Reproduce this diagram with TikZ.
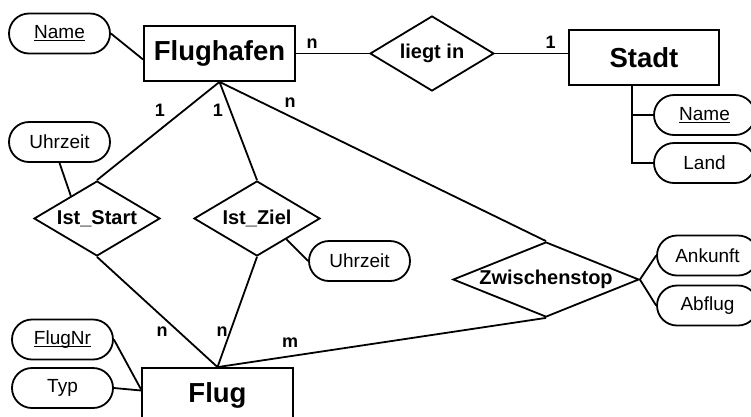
\documentclass[tikz,border=0pt]{standalone}
\usepackage{fontspec}
\setmainfont{Liberation Sans}
\usetikzlibrary{shapes.geometric,calc}
\newcommand\attul[1]{\setbox0\hbox{#1}\rlap{\rule[-2.6pt]{\wd0}{1.2pt}}\box0}
\begin{document}
\begin{tikzpicture}[x=1pt,y=-1pt, line width=1.8pt,
 entity/.style={draw, rectangle, minimum width=151pt, minimum height=55pt, inner sep=0pt, font=\fontsize{27.5}{30}\selectfont\bfseries},
 rel/.style={draw, diamond, inner sep=0pt, minimum height=75pt, font=\fontsize{20}{22}\selectfont\bfseries},
 attr/.style={draw, rectangle, rounded corners=20pt, minimum width=101pt, minimum height=40pt, inner sep=0pt, font=\fontsize{19}{21}\selectfont},
 card/.style={inner sep=0pt, font=\fontsize{18}{20}\selectfont\bfseries}]
\useasboundingbox (0,0) rectangle (751,416);
\clip (0,0) rectangle (751,416);
% entities
\node[entity] (flughafen) at (219.5,53.5) {Flughafen};
\node[entity, minimum width=150pt] (stadt) at (644,57.5) {Stadt};
\node[entity] (flug) at (217.5,395.5) {Flug};
% relationships
\node[rel, minimum width=124pt, aspect=1.65] (liegt) at (432,53.5) {liegt in};
\node[rel, minimum width=126pt, aspect=1.68] (iststart) at (97,218.5) {Ist\_Start};
\node[rel, minimum width=126pt, aspect=1.68] (istziel) at (257,218.5) {Ist\_Ziel};
\node[rel, minimum width=186pt, aspect=2.48] (zw) at (546,279.5) {Zwischenstop};
% attributes
\node[attr] (fname) at (59.5,33.5) {\attul{Name}};
\node[attr] (uhr1) at (59.5,142) {Uhrzeit};
\node[attr] (uhr2) at (359.5,261) {Uhrzeit};
\node[attr] (flugnr) at (62.5,339.5) {\attul{FlugNr}};
\node[attr] (typ) at (62.5,388) {Typ};
\node[attr] (sname) at (704.5,115) {\attul{Name}};
\node[attr] (land) at (704.5,163) {Land};
\node[attr] (ankunft) at (707.5,255.5) {Ankunft};
\node[attr] (abflug) at (707.5,305.5) {Abflug};
% relationship connectors
\draw (flughafen.east) -- (liegt.west);
\draw (liegt.east) -- (liegt.east -| stadt.west);
\draw (flughafen.south) -- (iststart.north);
\draw (flughafen.south) -- (istziel.north);
\draw (flughafen.south) -- (zw.north);
\draw (iststart.south) -- (flug.north);
\draw (istziel.south) -- (flug.north);
\draw (zw.south) -- (flug.north);
% attribute connectors
\draw (fname.east) -- ([yshift=-6pt]flughafen.west);
\draw (uhr1.south) -- ($(iststart.west)!0.59!(iststart.north)$);
\draw ($(istziel.south)!0.46!(istziel.east)$) -- (uhr2.west);
\draw (flugnr.east) -- ([yshift=6pt]flug.west);
\draw (typ.east) -- ([yshift=5pt]flug.west);
\coordinate (sv) at ([xshift=-12pt]stadt.south);
\draw (sv) |- (land.west);
\draw (sv |- sname.west) -- (sname.west);
\draw (zw.east) -- (ankunft.west);
\draw (zw.east) -- (abflug.west);
% cardinalities
\node[card] (c1) at (312,43.5) {n};
\node[card] (c2) at (550.5,42.5) {1};
\node[card] (c3) at (160,110) {1};
\node[card] (c4) at (218,110) {1};
\node[card] (c5) at (290,103) {n};
\node[card] (c6) at (162,332) {n};
\node[card] (c7) at (222,332) {n};
\node[card] (c8) at (290,343) {m};
\end{tikzpicture}
\end{document}
